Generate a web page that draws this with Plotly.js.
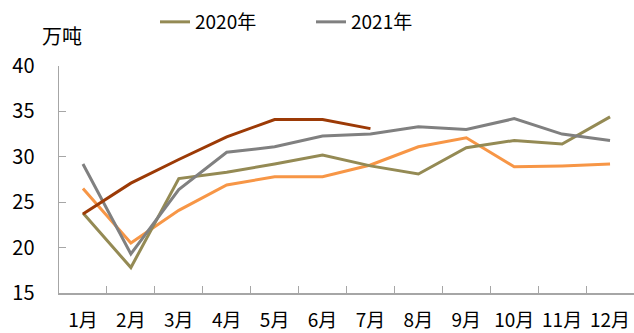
<!DOCTYPE html>
<html><head><meta charset="utf-8">
<script src="https://cdn.plot.ly/plotly-3.0.1.min.js"></script>
<style>html,body{margin:0;padding:0;background:#fff}#c{width:634px;height:333px}</style>
</head><body><div id="c"></div>
<script>
const months = ['1月','2月','3月','4月','5月','6月','7月','8月','9月','10月','11月','12月'];
const y2019 = [26.5,20.5,24.1,26.9,27.8,27.8,29.1,31.1,32.1,28.9,29.0,29.2];
const y2020 = [23.8,17.8,27.6,28.3,29.2,30.2,29.0,28.1,31.0,31.8,31.4,34.4];
const y2021 = [29.2,19.3,26.4,30.5,31.1,32.3,32.5,33.3,33.0,34.2,32.5,31.8];
const y2022 = [23.7,27.1,29.7,32.2,34.1,34.1,33.1];
const seriesNames = ['2019年','2020年','2021年','2022年'];
const yTicks = [15,20,25,30,35,40];

const font = 'Noto Sans CJK SC, Noto Sans, sans-serif';
const traces = [
  {x: months, y: y2019, name: seriesNames[0], line:{color:'#F79646',width:3}, showlegend:false},
  {x: months, y: y2020, name: seriesNames[1], line:{color:'#948A54',width:3}},
  {x: months, y: y2021, name: seriesNames[2], line:{color:'#808080',width:3}},
  {x: months.slice(0, y2022.length), y: y2022, name: seriesNames[3], line:{color:'#9C3A06',width:3}, showlegend:false}
].map(t => Object.assign({type:'scatter', mode:'lines', hoverinfo:'skip'}, t));

const layout = {
  width:634, height:333,
  margin:{l:59, r:0, t:66, b:40, autoexpand:false},
  paper_bgcolor:'#fff', plot_bgcolor:'#fff',
  font:{family:font, size:18, color:'#000'},
  showlegend:true,
  legend:{orientation:'h', x:(157-59-2)/575, xanchor:'left', yref:'container', y:1-22/333, yanchor:'middle',
          font:{family:font, size:19, color:'#000'}, entrywidth:111, entrywidthmode:'pixels',
          traceorder:'normal', bgcolor:'rgba(0,0,0,0)'},
  xaxis:{type:'category', range:[-0.5,11.5], tickson:'boundaries', ticks:'inside', ticklen:7, tickcolor:'#A6A6A6',
         showline:true, linecolor:'#A6A6A6', linewidth:1.5, showgrid:false, zeroline:false, tickangle:0,
         tickfont:{family:font, size:19}, ticklabelstandoff:10, automargin:false},
  yaxis:{range:[15,40], tickvals:yTicks, ticks:'inside', ticklen:7, tickcolor:'#A6A6A6',
         showline:true, linecolor:'#A6A6A6', linewidth:1.5, showgrid:false, zeroline:false,
         tickfont:{family:font, size:20}, ticklabelstandoff:19, automargin:false},
  annotations:[{text:'万吨', xref:'paper', yref:'paper', x:(61.5-59)/575, y:1+(66.5-36)/226, xanchor:'center', yanchor:'middle',
                showarrow:false, font:{family:font, size:20, color:'#000'}}]
};
Plotly.newPlot('c', traces, layout, {staticPlot:true, displayModeBar:false});
</script></body></html>
